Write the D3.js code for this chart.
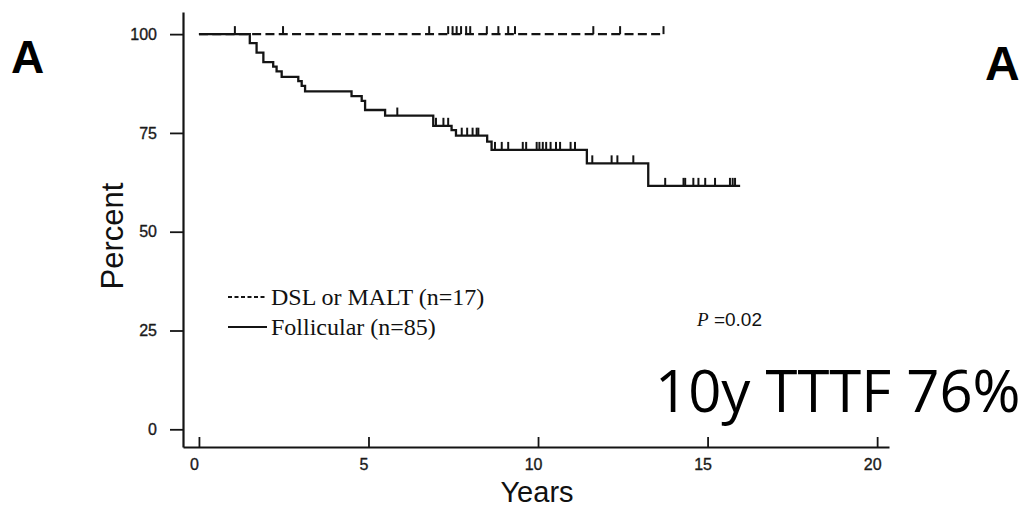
<!DOCTYPE html>
<html>
<head>
<meta charset="utf-8">
<script src="https://cdn.jsdelivr.net/npm/d3@7"></script>
<style>
  html, body { margin: 0; padding: 0; background: #fff; }
  svg { display: block; }
</style>
</head>
<body>
<svg id="chart" width="1028" height="507"></svg>
<script>
// ---------------- data ----------------
const xTicks = [0, 5, 10, 15, 20];
const yTicks = [0, 25, 50, 75, 100];

// Follicular (n=85): step times (years) and survival (%) after each step
const follTimes = [0, 1.50, 1.70, 1.90, 2.19, 2.29, 2.44, 2.93, 3.03, 3.13, 4.50, 4.80, 4.90, 5.49, 6.91, 7.45, 7.58, 8.50, 8.63, 11.44, 13.25];
const follSurv  = [100, 97.7, 95.3, 92.9, 91.8, 90.6, 89.2, 88.1, 86.9, 85.5, 84.3, 83.1, 80.8, 79.4, 76.8, 75.7, 74.3, 72.8, 70.7, 67.3, 61.6];
const follEnd = 15.96;
const follCensor = [5.85, 6.99, 7.21, 7.35, 7.75, 7.91, 8.07, 8.19, 8.24, 8.73, 8.93, 9.12, 9.55, 9.65, 9.96, 10.04, 10.14, 10.24, 10.37, 10.53, 10.65, 10.96, 11.09, 11.60, 12.17, 12.34, 12.81, 13.75, 14.29, 14.34, 14.58, 14.73, 14.93, 15.22, 15.66, 15.74, 15.81];

// DSL or MALT (n=17): no events
const dslTimes = [0];
const dslSurv  = [100];
const dslEnd = 13.70;
const dslCensor = [1.06, 2.48, 6.79, 7.35, 7.48, 7.60, 7.73, 7.88, 8.00, 8.49, 8.83, 9.12, 9.32, 11.63, 12.42, 13.70];

const legendLabels = ["DSL or MALT (n=17)", "Follicular (n=85)"];
const pLabel = ["P", " =0.02"];
const noteLabel = "10y TTTF 76%";
const panelLabel = "A";
const xTitle = "Years";
const yTitle = "Percent";

// ---------------- layout ----------------
const svg = d3.select("#chart");
const ink = "#141414";

const x = d3.scaleLinear().domain([-0.47, 20.35]).range([183, 889]);
const y = d3.scaleLinear().domain([-4.48, 105.6]).range([447, 12]);

// axes
const xAxis = d3.axisBottom(x).tickValues(xTicks).tickSizeInner(-10).tickSizeOuter(0).tickPadding(12);
const yAxis = d3.axisLeft(y).tickValues(yTicks).tickSizeInner(13).tickSizeOuter(0).tickPadding(13);

const gx = svg.append("g").attr("transform", "translate(0,447)").call(xAxis);
const gy = svg.append("g").attr("transform", "translate(183,0)").call(yAxis);

[gx, gy].forEach(g => {
  g.select(".domain").attr("stroke", ink).attr("stroke-width", 2.2);
  g.selectAll(".tick line").attr("stroke", ink).attr("stroke-width", 1.8);
  g.selectAll(".tick text")
    .attr("fill", "#1a1a1a")
    .attr("stroke", "#1a1a1a")
    .attr("stroke-width", 0.35)
    .style("font-family", "'Liberation Sans', Arial, sans-serif")
    .style("font-size", "16px");
});
gx.selectAll(".tick text").attr("dx", -5);

// axis titles
svg.append("text")
  .attr("x", 537).attr("y", 502)
  .attr("text-anchor", "middle")
  .style("font-family", "'Liberation Sans', Arial, sans-serif")
  .style("font-size", "29px")
  .attr("fill", "#111")
  .text(xTitle);

svg.append("text")
  .attr("transform", "translate(123,236) rotate(-90)")
  .attr("text-anchor", "middle")
  .style("font-family", "'Liberation Sans', Arial, sans-serif")
  .style("font-size", "31px")
  .attr("fill", "#111")
  .text(yTitle);

// ---------------- curves ----------------
function stepValue(times, surv, t) {
  let v = surv[0];
  for (let i = 0; i < times.length; i++) if (times[i] <= t) v = surv[i];
  return v;
}
function stepPoints(times, surv, end) {
  const pts = times.map((t, i) => [t, surv[i]]);
  pts.push([end, surv[surv.length - 1]]);
  return pts;
}
const line = d3.line().x(d => x(d[0])).y(d => y(d[1])).curve(d3.curveStepAfter);

// dashed group
svg.append("path")
  .datum(stepPoints(dslTimes, dslSurv, dslEnd))
  .attr("d", line)
  .attr("fill", "none")
  .attr("stroke", ink)
  .attr("stroke-width", 2.3)
  .attr("stroke-dasharray", "9,4.3");

// solid group
svg.append("path")
  .datum(stepPoints(follTimes, follSurv, follEnd))
  .attr("d", line)
  .attr("fill", "none")
  .attr("stroke", ink)
  .attr("stroke-width", 2.3);

// censor marks
function censorMarks(times, surv, cens) {
  svg.append("g").selectAll("line")
    .data(cens)
    .join("line")
    .attr("x1", d => x(d)).attr("x2", d => x(d))
    .attr("y1", d => y(stepValue(times, surv, d)))
    .attr("y2", d => y(stepValue(times, surv, d)) - 8)
    .attr("stroke", ink)
    .attr("stroke-width", 2);
}
censorMarks(dslTimes, dslSurv, dslCensor);
censorMarks(follTimes, follSurv, follCensor);

// ---------------- legend ----------------
const legendDash = ["4,2.5", null];
const lg = svg.append("g");
legendLabels.forEach((lab, i) => {
  const cy = 297 + i * 30;
  lg.append("line")
    .attr("x1", 228).attr("x2", 267)
    .attr("y1", cy).attr("y2", cy)
    .attr("stroke", ink).attr("stroke-width", 1.8)
    .attr("stroke-dasharray", legendDash[i]);
  lg.append("text")
    .attr("x", 271).attr("y", cy + 8)
    .style("font-family", "'Liberation Serif', 'Times New Roman', serif")
    .style("font-size", "24px")
    .attr("fill", "#111")
    .text(lab);
});

// P value
const pt = svg.append("text")
  .attr("x", 697).attr("y", 326)
  .attr("fill", "#111")
  .style("font-size", "19px");
pt.append("tspan")
  .style("font-family", "'Liberation Serif', 'Times New Roman', serif")
  .style("font-style", "italic")
  .text(pLabel[0]);
pt.append("tspan")
  .style("font-family", "'Liberation Sans', Arial, sans-serif")
  .text(pLabel[1]);

// big annotation
svg.append("text")
  .attr("x", 655).attr("y", 412)
  .style("font-family", "'Open Sans', sans-serif")
  .style("font-size", "58px")
  .attr("fill", "#000")
  .text(noteLabel);

// panel letters
svg.append("text")
  .attr("x", 11).attr("y", 73)
  .style("font-family", "'Liberation Sans', Arial, sans-serif")
  .style("font-weight", "bold")
  .style("font-size", "46px")
  .attr("fill", "#000")
  .text(panelLabel);
svg.append("text")
  .attr("x", 985).attr("y", 80)
  .style("font-family", "'Liberation Sans', Arial, sans-serif")
  .style("font-weight", "bold")
  .style("font-size", "48px")
  .attr("fill", "#000")
  .text(panelLabel);
</script>
</body>
</html>
